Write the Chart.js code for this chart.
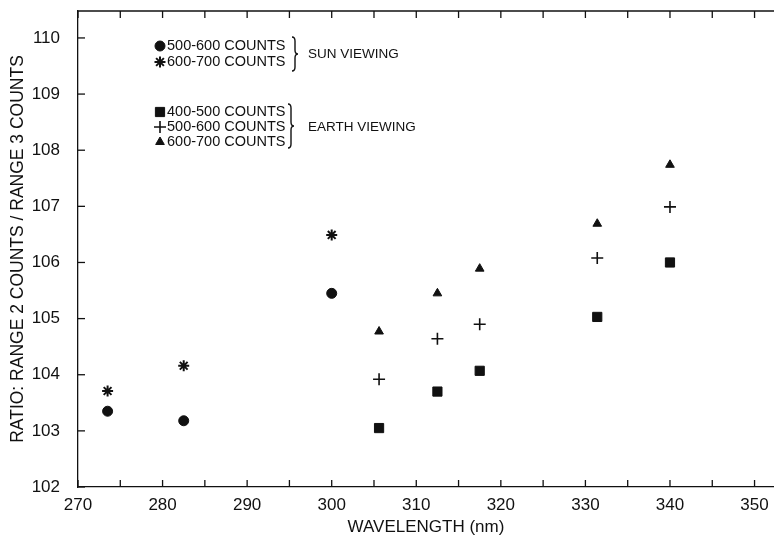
<!DOCTYPE html>
<html>
<head>
<meta charset="utf-8">
<script src="https://cdn.jsdelivr.net/npm/chart.js@4.4.0/dist/chart.umd.min.js"></script>
<style>
  body { margin: 0; background: #fff; }
</style>
</head>
<body>
<canvas id="ratioChart" width="774" height="543"></canvas>
<script>
// Tick values
const xTickValues = [270, 275, 280, 285, 290, 295, 300, 305, 310, 315, 320, 325, 330, 335, 340, 345, 350];
const yTickValues = [102, 103, 104, 105, 106, 107, 108, 109, 110];

// Sun viewing data
const sunWavelengths = [273.5, 282.5, 300];
const sun500to600 = [103.35, 103.18, 105.45];
const sun600to700 = [103.71, 104.16, 106.49];

// Earth viewing data
const earthWavelengths = [305.6, 312.5, 317.5, 331.4, 340];
const earth400to500 = [103.05, 103.70, 104.07, 105.03, 106.00];
const earth500to600 = [103.92, 104.64, 104.90, 106.08, 106.99];
const earth600to700 = [104.77, 105.45, 105.89, 106.69, 107.74];

// Legend texts
const sunLabels = ['500-600 COUNTS', '600-700 COUNTS'];
const earthLabels = ['400-500 COUNTS', '500-600 COUNTS', '600-700 COUNTS'];
const groupLabels = ['SUN VIEWING', 'EARTH VIEWING'];

const ink = '#111';
const fontFamily = '"Liberation Sans", Arial, Helvetica, sans-serif';

function toPoints(xs, ys) {
    return xs.map((x, i) => ({ x: x, y: ys[i] }));
}

const markerStyles = {
    sun500: { pointStyle: 'circle', radius: 5, borderWidth: 1 },
    sun600: { pointStyle: 'star', radius: 5.5, borderWidth: 2 },
    earth400: { pointStyle: 'rect', radius: 6.5, borderWidth: 1 },
    earth500: { pointStyle: 'cross', radius: 6, borderWidth: 1.6 },
    earth600: { pointStyle: 'triangle', radius: 5, borderWidth: 1 }
};

function makeDataset(label, xs, ys, style) {
    return {
        label: label,
        data: toPoints(xs, ys),
        showLine: false,
        pointStyle: style.pointStyle,
        pointRadius: style.radius,
        pointBorderWidth: style.borderWidth,
        pointBackgroundColor: ink,
        pointBorderColor: ink
    };
}

// Simple right-facing curly brace
function drawBrace(ctx, x, y1, y2) {
    const mid = (y1 + y2) / 2;
    const w = 3;
    ctx.beginPath();
    ctx.moveTo(x, y1);
    ctx.quadraticCurveTo(x + w, y1, x + w, y1 + 4);
    ctx.lineTo(x + w, mid - 4);
    ctx.quadraticCurveTo(x + w, mid, x + 2 * w, mid);
    ctx.quadraticCurveTo(x + w, mid, x + w, mid + 4);
    ctx.lineTo(x + w, y2 - 4);
    ctx.quadraticCurveTo(x + w, y2, x, y2);
    ctx.stroke();
}

function drawMarker(ctx, style, x, y) {
    ctx.save();
    ctx.fillStyle = ink;
    ctx.strokeStyle = ink;
    ctx.lineWidth = style.borderWidth;
    Chart.helpers.drawPoint(ctx, { pointStyle: style.pointStyle, radius: style.radius, rotation: 0, borderWidth: style.borderWidth }, x, y);
    ctx.restore();
}

// Remove the extra room Chart.js keeps for edge labels
function noEdgePadding(scale) {
    scale.paddingTop = 0;
    scale.paddingBottom = 0;
    scale.paddingLeft = 0;
    scale.paddingRight = 0;
}

// Draws the frame with inward ticks and the in-plot legend
const framePlugin = {
    id: 'frame',
    afterDraw(chart) {
        const ctx = chart.ctx;
        const area = chart.chartArea;
        const xs = chart.scales.x;
        const ys = chart.scales.y;
        const tickLen = 7;

        ctx.save();
        ctx.strokeStyle = ink;
        ctx.lineWidth = 1.3;

        // top line
        ctx.beginPath();
        ctx.moveTo(area.left, area.top);
        ctx.lineTo(area.right, area.top);
        ctx.stroke();

        // x ticks on bottom and top, pointing inward
        xTickValues.forEach(v => {
            const px = xs.getPixelForValue(v);
            ctx.beginPath();
            ctx.moveTo(px, area.bottom);
            ctx.lineTo(px, area.bottom - tickLen);
            ctx.moveTo(px, area.top);
            ctx.lineTo(px, area.top + tickLen);
            ctx.stroke();
        });

        // y ticks on left, pointing inward
        yTickValues.forEach(v => {
            const py = ys.getPixelForValue(v);
            ctx.beginPath();
            ctx.moveTo(area.left, py);
            ctx.lineTo(area.left + tickLen, py);
            ctx.stroke();
        });

        // legend
        const styles = chart.data.datasets.map(d => ({
            pointStyle: d.pointStyle, radius: d.pointRadius, borderWidth: d.pointBorderWidth
        }));
        ctx.fillStyle = ink;
        ctx.textAlign = 'left';
        ctx.textBaseline = 'middle';
        ctx.font = '14.5px ' + fontFamily;

        const markerX = area.left + 82;
        const textX = area.left + 89;

        const sunRows = [46, 62];
        sunLabels.forEach((t, i) => {
            drawMarker(ctx, styles[i], markerX, sunRows[i]);
            ctx.fillText(t, textX, sunRows[i]);
        });
        const earthRows = [112, 127, 142];
        earthLabels.forEach((t, i) => {
            drawMarker(ctx, styles[i + 2], markerX, earthRows[i]);
            ctx.fillText(t, textX, earthRows[i]);
        });

        ctx.lineWidth = 1.4;
        drawBrace(ctx, area.left + 214, 37, 71);
        drawBrace(ctx, area.left + 210, 104, 148);

        ctx.font = '13.5px ' + fontFamily;
        ctx.fillText(groupLabels[0], area.left + 230, 54);
        ctx.fillText(groupLabels[1], area.left + 230, 127);
        ctx.restore();
    }
};

const ctx = document.getElementById('ratioChart').getContext('2d');
const ratioChart = new Chart(ctx, {
    type: 'scatter',
    data: {
        datasets: [
            makeDataset('Sun 500-600', sunWavelengths, sun500to600, markerStyles.sun500),
            makeDataset('Sun 600-700', sunWavelengths, sun600to700, markerStyles.sun600),
            makeDataset('Earth 400-500', earthWavelengths, earth400to500, markerStyles.earth400),
            makeDataset('Earth 500-600', earthWavelengths, earth500to600, markerStyles.earth500),
            makeDataset('Earth 600-700', earthWavelengths, earth600to700, markerStyles.earth600)
        ]
    },
    options: {
        responsive: false,
        animation: false,
        devicePixelRatio: 1,
        // no extra room for point overflow, the plot runs to the right edge
        layout: { autoPadding: false, padding: { top: 11, right: 0, left: 0, bottom: 0 } },
        plugins: {
            legend: { display: false },
            tooltip: { enabled: false }
        },
        scales: {
            x: {
                type: 'linear',
                min: 270,
                max: 352.3,
                grid: { display: false, drawTicks: false },
                border: { display: true, color: ink, width: 1.3 },
                afterBuildTicks: scale => { scale.ticks = xTickValues.map(v => ({ value: v })); },
                afterFit: scale => { scale.height = 56; noEdgePadding(scale); },
                ticks: {
                    color: ink,
                    font: { family: fontFamily, size: 17 },
                    padding: 8,
                    maxRotation: 0,
                    autoSkip: false,
                    callback: v => (v % 10 === 0 ? String(v) : '')
                },
                title: {
                    display: true,
                    text: 'WAVELENGTH (nm)',
                    color: ink,
                    font: { family: fontFamily, size: 17 },
                    padding: { top: 0, bottom: 5 }
                }
            },
            y: {
                type: 'linear',
                min: 102,
                max: 110.48,
                grid: { display: false, drawTicks: false },
                border: { display: true, color: ink, width: 1.3 },
                afterBuildTicks: scale => { scale.ticks = yTickValues.map(v => ({ value: v })); },
                afterFit: scale => { scale.width = 78; noEdgePadding(scale); },
                ticks: {
                    color: ink,
                    font: { family: fontFamily, size: 17 },
                    padding: 18
                },
                title: {
                    display: true,
                    text: 'RATIO: RANGE 2 COUNTS / RANGE 3 COUNTS',
                    color: ink,
                    font: { family: fontFamily, size: 17.5 },
                    padding: { top: 8, bottom: 0 }
                }
            }
        }
    },
    plugins: [framePlugin]
});
</script>
</body>
</html>
